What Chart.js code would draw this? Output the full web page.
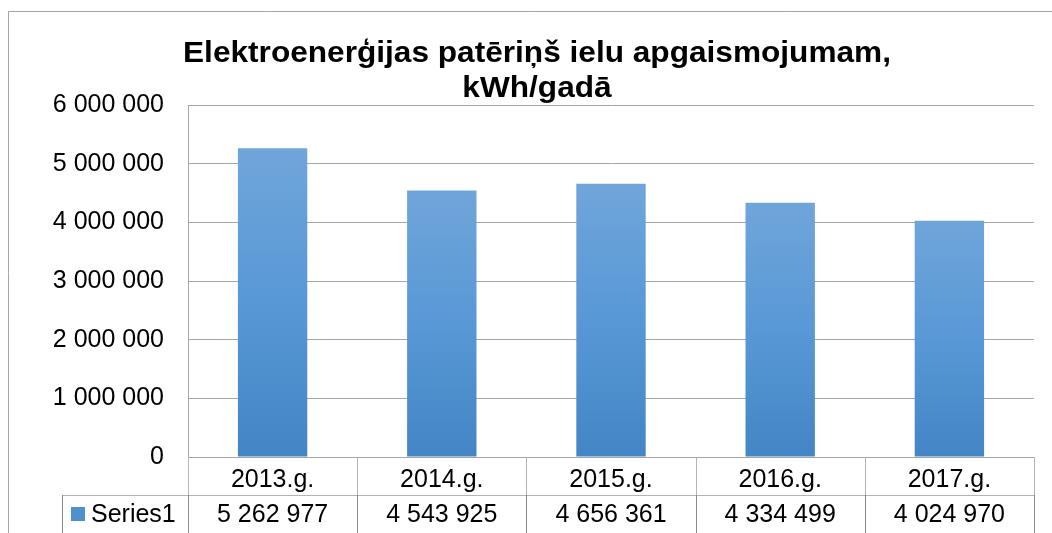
<!DOCTYPE html>
<html>
<head>
<meta charset="utf-8">
<script src="https://cdn.jsdelivr.net/npm/chart.js@4/dist/chart.umd.min.js"></script>
<style>
  html, body { margin: 0; padding: 0; background: #ffffff; }
  #wrap { position: relative; width: 1052px; height: 533px; }
</style>
</head>
<body>
<div id="wrap"><canvas id="c" width="1052" height="533"></canvas></div>
<script>
const titleLines = ['Elektroenerģijas patēriņš ielu apgaismojumam,', 'kWh/gadā'];
const categories = ['2013.g.', '2014.g.', '2015.g.', '2016.g.', '2017.g.'];
const seriesName = 'Series1';
const seriesValues = [5262977, 4543925, 4656361, 4334499, 4024970];
const yTicks = [0, 1000000, 2000000, 3000000, 4000000, 5000000, 6000000];

const FONT = "'Liberation Sans', Arial, sans-serif";
const fmt = v => String(v).replace(/\B(?=(\d{3})+(?!\d))/g, ' ');

function barGradient(ctx) {
  const chart = ctx.chart;
  if (!chart.chartArea || ctx.type !== 'data') return '#5b9bd5';
  const y = chart.scales.y;
  const top = y.getPixelForValue(ctx.raw);
  const bottom = y.getPixelForValue(0);
  const g = chart.ctx.createLinearGradient(0, top, 0, bottom);
  g.addColorStop(0, '#70a5da');
  g.addColorStop(0.5, '#5898d6');
  g.addColorStop(1, '#4385c5');
  return g;
}

const titlePlugin = {
  id: 'wideTitle',
  afterDraw(chart) {
    const c = chart.ctx;
    c.save();
    c.fillStyle = '#000000';
    c.font = 'bold 29px ' + FONT;
    c.textAlign = 'center';
    c.textBaseline = 'alphabetic';
    const cx = 537;
    const sx = 1.09;
    c.translate(cx, 0);
    c.scale(sx, 1);
    c.fillText(titleLines[0], 0, 62);
    c.fillText(titleLines[1], 0, 97);
    c.restore();
  }
};

const tablePlugin = {
  id: 'dataTable',
  afterDraw(chart) {
    const c = chart.ctx;
    const xs = chart.scales.x;
    const top = xs.top;
    const bottom = chart.height;
    const mid = top + (xs.bottom - xs.top) / 2;
    const left = xs.left, right = xs.right;
    const n = categories.length;
    const step = (right - left) / n;
    c.save();
    // outer chart border
    c.strokeStyle = '#a6a6a6';
    c.lineWidth = 1;
    c.beginPath();
    c.moveTo(8.5, bottom);
    c.lineTo(8.5, 11.5);
    c.lineTo(chart.width, 11.5);
    c.stroke();
    // header row verticals (light)
    c.strokeStyle = '#b4b4b4';
    c.beginPath();
    for (let i = 0; i <= n; i++) {
      const x = Math.round(left + i * step) + 0.5;
      c.moveTo(x, top);
      c.lineTo(x, mid);
    }
    // horizontal separator
    c.moveTo(62, Math.round(mid) + 0.5);
    c.lineTo(right, Math.round(mid) + 0.5);
    c.stroke();
    // data row verticals (darker)
    c.strokeStyle = '#8c8c8c';
    c.beginPath();
    c.moveTo(62.5, mid);
    c.lineTo(62.5, bottom);
    for (let i = 0; i <= n; i++) {
      const x = Math.round(left + i * step) + 0.5;
      c.moveTo(x, mid);
      c.lineTo(x, bottom);
    }
    c.stroke();
    // data row values
    const rowMid = mid + (bottom - mid) / 2 + 1;
    c.fillStyle = '#000000';
    c.font = '25px ' + FONT;
    c.textBaseline = 'middle';
    c.textAlign = 'center';
    seriesValues.forEach((v, i) => {
      c.fillText(fmt(v), xs.getPixelForValue(i), rowMid);
    });
    // legend key + series name
    c.fillStyle = '#4f90d0';
    c.fillRect(71, Math.round(rowMid) - 8, 14, 14);
    c.fillStyle = '#000000';
    c.textAlign = 'left';
    c.fillText(seriesName, 91, rowMid);
    c.restore();
  }
};

new Chart(document.getElementById('c'), {
  type: 'bar',
  data: {
    labels: categories,
    datasets: [{
      label: seriesName,
      data: seriesValues,
      backgroundColor: barGradient,
      borderWidth: 0,
      barPercentage: 0.41,
      categoryPercentage: 1.0
    }]
  },
  options: {
    responsive: false,
    animation: false,
    devicePixelRatio: 1,
    layout: { padding: { left: 40, right: 18, top: 105, bottom: 0 } },
    plugins: {
      legend: { display: false },
      tooltip: { enabled: false },
      title: { display: false }
    },
    scales: {
      x: {
        grid: { display: false, drawTicks: false },
        border: { display: true, color: '#a6a6a6', width: 1 },
        ticks: {
          color: '#000000',
          font: { family: FONT, size: 25 },
          padding: 8,
          maxRotation: 0,
          autoSkip: false
        },
        afterFit(scale) { scale.height = 76; }
      },
      y: {
        min: 0,
        max: 6000000,
        afterBuildTicks(scale) { scale.ticks = yTicks.map(v => ({ value: v })); },
        grid: { color: '#a6a6a6', lineWidth: 1, drawTicks: false },
        border: { display: true, color: '#a6a6a6', width: 1 },
        ticks: {
          color: '#000000',
          font: { family: FONT, size: 25 },
          padding: 24,
          callback: v => fmt(v)
        },
        afterFit(scale) { scale.width = 148; }
      }
    }
  },
  plugins: [tablePlugin, titlePlugin]
});
</script>
</body>
</html>
